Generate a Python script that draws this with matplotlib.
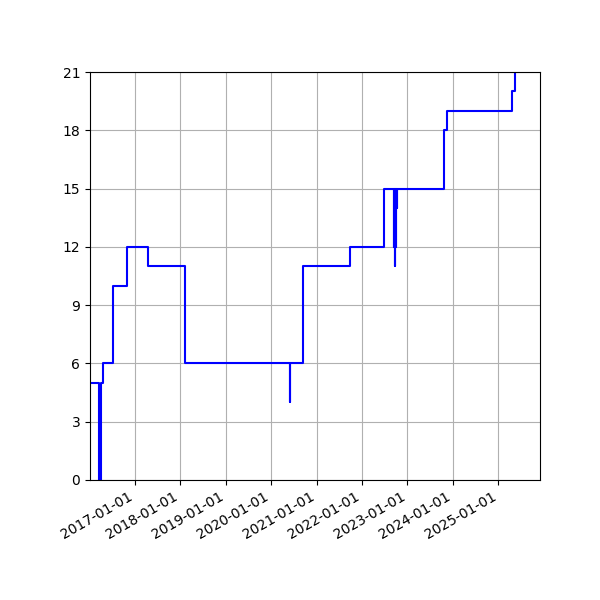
import matplotlib
matplotlib.use("Agg")
import matplotlib.pyplot as plt
import matplotlib.dates as mdates
import numpy as np

# change points of the series (value holds until the next date)
dates = [
    "2015-12-01", "2016-03-20", "2016-04-02", "2016-04-21", "2016-07-06",
    "2016-10-26", "2017-04-18", "2018-02-05", "2020-05-30", "2020-06-01",
    "2020-09-10", "2021-09-29", "2022-06-27", "2022-09-16", "2022-09-18",
    "2022-09-23", "2022-09-25", "2022-10-01", "2022-10-03", "2022-10-06",
    "2022-10-12", "2023-10-24", "2023-11-17", "2025-04-24", "2025-05-15",
    "2025-06-20",
]
values = [
    5, 0, 5, 6, 10,
    12, 11, 6, 4, 6,
    11, 12, 15, 12, 15,
    11, 15, 12, 15, 14,
    15, 18, 19, 20, 22,
    22,
]

x = np.array(dates, dtype="datetime64[D]")

fig, ax = plt.subplots(figsize=(6, 6), dpi=100)

ax.plot(x, values, color="blue", drawstyle="steps-post", linewidth=1.5)

ax.set_xlim(np.datetime64("2016-01-06"), np.datetime64("2025-12-02"))
ax.set_ylim(0, 21)
ax.set_yticks(range(0, 22, 3))
ax.xaxis.set_major_locator(mdates.YearLocator())
ax.xaxis.set_major_formatter(mdates.DateFormatter("%Y-%m-%d"))
ax.grid(True)
fig.autofmt_xdate()
fig.subplots_adjust(left=0.15, right=0.9, top=0.88, bottom=0.2)

fig.savefig("out.png")
